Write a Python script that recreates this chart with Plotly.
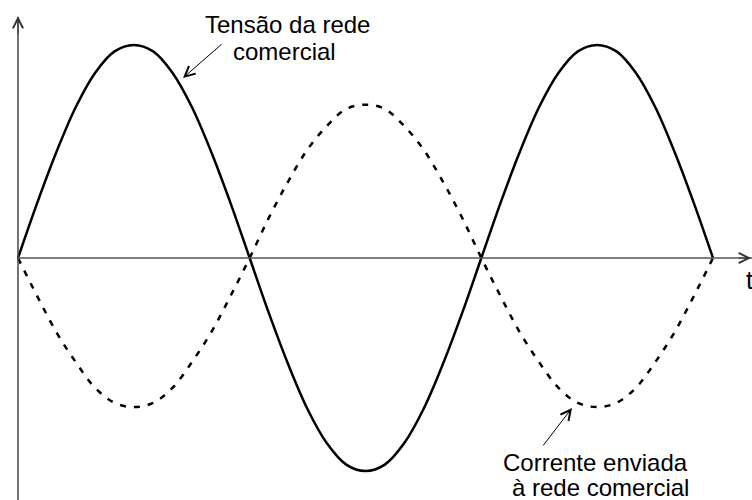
import plotly.graph_objects as go

# Phase angle in degrees (1.5 periods)
phase_deg = list(range(0, 541, 15))

# Grid voltage (solid), normalised
tensao = [0, 0.26, 0.50, 0.71, 0.87, 0.97, 1.00, 0.97, 0.87, 0.71, 0.50, 0.26,
          0, -0.26, -0.50, -0.71, -0.87, -0.97, -1.00, -0.97, -0.87, -0.71, -0.50, -0.26,
          0, 0.26, 0.50, 0.71, 0.87, 0.97, 1.00, 0.97, 0.87, 0.71, 0.50, 0.26, 0]

# Current injected into the grid (dashed), normalised
corrente = [0, -0.18, -0.35, -0.49, -0.61, -0.68, -0.70, -0.68, -0.61, -0.49, -0.35, -0.18,
            0, 0.19, 0.36, 0.51, 0.62, 0.70, 0.72, 0.70, 0.62, 0.51, 0.36, 0.19,
            0, -0.18, -0.35, -0.49, -0.61, -0.68, -0.70, -0.68, -0.61, -0.49, -0.35, -0.18, 0]

W, H = 752, 500
X0PX, X1PX = 18, 713      # pixel positions of phase 0 and 540
Y0PX, AMP = 258, 213      # pixel of zero line and of unit amplitude

sx = (X1PX - X0PX) / 540.0
xr = [-X0PX / sx, (W - X0PX) / sx]
yr = [-(H - Y0PX) / AMP, Y0PX / AMP]

FONT = "Liberation Sans, Arial, sans-serif"

def px(x):
    return x / W

def py(y):
    return 1 - y / H

fig = go.Figure()
fig.add_trace(go.Scatter(x=phase_deg, y=tensao, mode="lines",
                         line=dict(color="black", width=2.5, shape="spline"),
                         hoverinfo="skip", showlegend=False))
fig.add_trace(go.Scatter(x=phase_deg, y=corrente, mode="lines",
                         line=dict(color="black", width=2.5, shape="spline", dash="6px,8px"),
                         hoverinfo="skip", showlegend=False))

shapes = [
    dict(type="line", xref="paper", yref="paper", x0=px(18), x1=px(18), y0=0, y1=py(17),
         line=dict(color="#444", width=1.5)),
    dict(type="line", xref="paper", yref="paper", x0=px(18), x1=1.01, y0=py(258), y1=py(258),
         line=dict(color="#555", width=1.5)),
]

ann = []
# axis arrowheads
ann.append(dict(xref="paper", yref="paper", x=px(18), y=py(16), ax=0, ay=20, text="",
                showarrow=True, arrowhead=5, arrowsize=2, arrowwidth=1, arrowcolor="#333",
                standoff=0))
ann.append(dict(xref="paper", yref="paper", x=px(757), y=py(258), ax=-20, ay=0, text="",
                showarrow=True, arrowhead=5, arrowsize=2, arrowwidth=1, arrowcolor="#333",
                standoff=0))
# t label
ann.append(dict(xref="paper", yref="paper", x=px(744), y=py(280), text="t", showarrow=False,
                xanchor="left", yanchor="middle", font=dict(family=FONT, size=25, color="black")))
# text labels
for txt, cx, cy in [("Tensão da rede", 287, 24), ("comercial", 284, 52),
                    ("Corrente enviada", 595, 462), ("à rede comercial", 600, 487)]:
    ann.append(dict(xref="paper", yref="paper", x=px(cx), y=py(cy), text=txt, showarrow=False,
                    xanchor="center", yanchor="middle",
                    font=dict(family=FONT, size=24, color="black")))
# pointer arrows
ann.append(dict(xref="paper", yref="paper", x=px(183), y=py(78), ax=40, ay=-35, text="",
                showarrow=True, arrowhead=5, arrowsize=2, arrowwidth=1, arrowcolor="black",
                standoff=0))
ann.append(dict(xref="paper", yref="paper", x=px(572), y=py(408), ax=-30, ay=39, text="",
                showarrow=True, arrowhead=5, arrowsize=2, arrowwidth=1, arrowcolor="black",
                standoff=0))

fig.update_layout(
    width=W, height=H,
    margin=dict(l=0, r=0, t=0, b=0),
    paper_bgcolor="white", plot_bgcolor="white",
    xaxis=dict(range=xr, visible=False, fixedrange=True),
    yaxis=dict(range=yr, visible=False, fixedrange=True),
    shapes=shapes, annotations=ann,
    showlegend=False,
)

fig.write_html("out.html", config={"displayModeBar": False},
               post_script="document.body.style.margin='0';document.body.style.overflow='hidden';")
